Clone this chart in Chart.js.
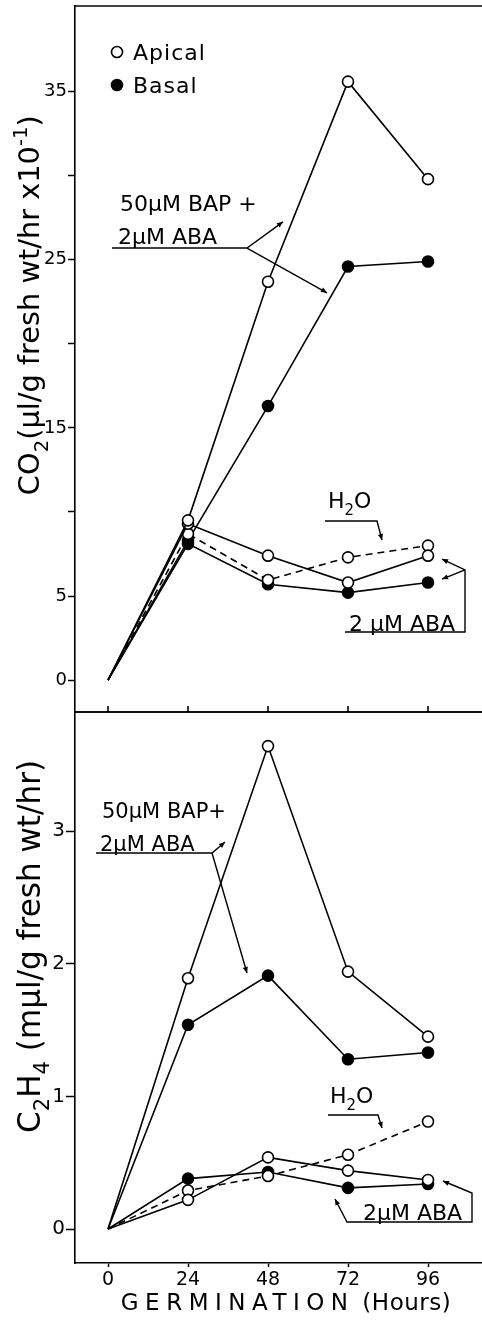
<!DOCTYPE html>
<html>
<head>
<meta charset="utf-8">
<script src="https://cdn.jsdelivr.net/npm/chart.js@4.4.0/dist/chart.umd.min.js"></script>
<style>
  html, body { margin: 0; padding: 0; background: #fff; }
  #wrap { position: relative; width: 482px; height: 1327px; overflow: hidden; }
  canvas { position: absolute; left: 0; }
  #co2 { top: 0; }
  #c2h4 { top: 700px; }
</style>
</head>
<body>
<div id="wrap">
  <canvas id="co2" width="482" height="716"></canvas>
  <canvas id="c2h4" width="482" height="627"></canvas>
</div>
<script>
const FONT = '"DejaVu Sans", sans-serif';

const hours = [0, 24, 48, 72, 96];
const hourTicks = [0, 24, 48, 72, 96];

// CO2 (µl/g fresh wt/hr x10^-1)
const co2BapApical = [0, 9.5, 23.7, 35.6, 29.8];
const co2BapBasal = [0, 8.3, 16.3, 24.6, 24.9];
const co2AbaApical = [0, 9.3, 7.4, 5.8, 7.4];
const co2AbaBasal = [0, 8.1, 5.7, 5.2, 5.8];
const co2WaterApical = [0, 8.7, 5.95, 7.3, 8.0];
const co2Ticks = [0, 5, 10, 15, 20, 25, 30, 35];
const co2TickLabels = ['0', '5', '', '15', '', '25', '', '35'];

// C2H4 (mµl/g fresh wt/hr)
const c2h4BapApical = [0, 1.89, 3.64, 1.94, 1.45];
const c2h4BapBasal = [0, 1.54, 1.91, 1.28, 1.33];
const c2h4AbaApical = [0, 0.22, 0.54, 0.44, 0.37];
const c2h4AbaBasal = [0, 0.38, 0.43, 0.31, 0.34];
const c2h4WaterApical = [0, 0.29, 0.40, 0.56, 0.81];
const c2h4Ticks = [0, 1, 2, 3];
const c2h4TickLabels = ['0', '1', '2', '3'];

Chart.defaults.color = '#000';
Chart.defaults.font.family = FONT;

function series(label, values, filled, dashed) {
  return {
    label,
    data: hours.map((h, i) => ({ x: h, y: values[i] })),
    borderColor: '#000',
    borderWidth: 1.6,
    borderDash: dashed ? [7, 5] : [],
    pointRadius: values.map((v, i) => (i === 0 ? 0 : 5.5)),
    pointBackgroundColor: filled ? '#000' : '#fff',
    pointBorderColor: '#000',
    pointBorderWidth: 1.6,
    order: filled ? 2 : 1,
    tension: 0
  };
}

function noPad(s) {
  s.paddingTop = 0; s.paddingBottom = 0; s.paddingLeft = 0; s.paddingRight = 0;
}

function yScale(min, max, ticks, labels, size, tickLen) {
  return {
    type: 'linear', min, max,
    afterBuildTicks: s => { s.ticks = ticks.map(v => ({ value: v })); },
    afterFit: s => { s.width = 75; noPad(s); },
    ticks: { callback: (v, i) => labels[i], font: { size }, padding: 1 },
    grid: { drawOnChartArea: false, tickLength: tickLen, color: '#000', tickWidth: 1.5 },
    border: { color: '#000', width: 1.6 }
  };
}

// ---- helpers for the hand-drawn parts of the figure ----
function line(ctx, pts) {
  ctx.beginPath();
  pts.forEach(([px, py], i) => (i ? ctx.lineTo(px, py) : ctx.moveTo(px, py)));
  ctx.stroke();
}
function arrowHead(ctx, [x0, y0], [x1, y1]) {
  const a = Math.atan2(y1 - y0, x1 - x0), L = 6, W = 2.6;
  ctx.beginPath();
  ctx.moveTo(x1, y1);
  ctx.lineTo(x1 - L * Math.cos(a) + W * Math.sin(a), y1 - L * Math.sin(a) - W * Math.cos(a));
  ctx.lineTo(x1 - L * Math.cos(a) - W * Math.sin(a), y1 - L * Math.sin(a) + W * Math.cos(a));
  ctx.closePath();
  ctx.fill();
}
function partFont(size, kind) { return (kind ? size * 0.68 : size) + 'px ' + FONT; }
function partsWidth(ctx, parts, size) {
  let w = 0;
  ctx.letterSpacing = '0px';
  parts.forEach(([t, kind, sp = 0]) => {
    ctx.font = partFont(size, kind);
    w += ctx.measureText(t).width + sp * t.length;
  });
  return w;
}
// x = left edge, y = middle of the capitals; part = [text, kind, letterSpacing]
function drawParts(ctx, parts, x, y, size) {
  let cx = x;
  const base = y + size * 0.36;
  parts.forEach(([t, kind, sp = 0]) => {
    const dy = kind === 'sub' ? size * 0.3 : kind === 'sup' ? -size * 0.42 : 0;
    ctx.font = partFont(size, kind);
    ctx.letterSpacing = '0px';
    const w = ctx.measureText(t).width;
    ctx.letterSpacing = sp + 'px';
    ctx.fillText(t, cx, base + dy);
    cx += w + sp * t.length;
  });
  ctx.letterSpacing = '0px';
}

const paperPlugin = {
  id: 'paper',
  afterDraw(chart, args, opts) {
    const { ctx, chartArea: a } = chart;
    const x = chart.scales.x, y = chart.scales.y;
    const P = ([hx, vy]) => [x.getPixelForValue(hx), y.getPixelForValue(vy)];
    ctx.save();
    ctx.strokeStyle = '#000';
    ctx.fillStyle = '#000';
    ctx.lineWidth = 1.6;
    ctx.textAlign = 'left';
    ctx.textBaseline = 'alphabetic';

    line(ctx, [[a.left, a.top], [a.right, a.top]]);
    if (opts.frameBottom) {
      line(ctx, [[a.left, a.bottom], [a.right, a.bottom]]);
      hourTicks.forEach(h => {
        const px = x.getPixelForValue(h);
        line(ctx, [[px, a.bottom], [px, a.bottom - 6]]);
      });
    }

    ctx.lineWidth = 1.4;
    (opts.notes || []).forEach(n => {
      if (n.text) {
        const [px, py] = P(n.at);
        drawParts(ctx, n.text, px, py, n.size || 22);
      } else {
        const pts = n.path.map(P);
        line(ctx, pts);
        if (n.arrow) arrowHead(ctx, pts[pts.length - 2], pts[pts.length - 1]);
        if (n.arrowStart) arrowHead(ctx, pts[1], pts[0]);
      }
    });

    if (opts.legend) {
      ctx.lineWidth = 1.6;
      opts.legend.forEach((item, i) => {
        const cx = a.left + 42, cy = a.top + 46 + i * 33;
        ctx.beginPath();
        ctx.arc(cx, cy, 5.5, 0, Math.PI * 2);
        ctx.fillStyle = item.filled ? '#000' : '#fff';
        ctx.fill();
        ctx.stroke();
        ctx.fillStyle = '#000';
        drawParts(ctx, [[item.label, '', 1]], cx + 16, cy, 22);
      });
    }

    if (opts.yTitle) {
      const t = opts.yTitle;
      let size = 28;
      size *= t.length / partsWidth(ctx, t.parts, size);
      const w = partsWidth(ctx, t.parts, size);
      ctx.translate(29, y.getPixelForValue(t.center));
      ctx.rotate(-Math.PI / 2);
      drawParts(ctx, t.parts, -w / 2, 0, size);
      ctx.setTransform(1, 0, 0, 1, 0, 0);
    }

    if (opts.xTitle) {
      const t = opts.xTitle;
      const w = partsWidth(ctx, t.parts, t.size);
      const cx = x.getPixelForValue(t.center);
      drawParts(ctx, t.parts, cx - w / 2, a.bottom + t.offset, t.size);
    }
    ctx.restore();
  }
};

// ---- CO2 panel ----
new Chart(document.getElementById('co2'), {
  type: 'line',
  data: {
    datasets: [
      series('50µM BAP + 2µM ABA apical', co2BapApical, false, false),
      series('50µM BAP + 2µM ABA basal', co2BapBasal, true, false),
      series('2µM ABA apical', co2AbaApical, false, false),
      series('2µM ABA basal', co2AbaBasal, true, false),
      series('H2O apical', co2WaterApical, false, true)
    ]
  },
  options: {
    responsive: false,
    animation: false,
    devicePixelRatio: 1,
    layout: { autoPadding: false, padding: { top: 6, left: 0, right: 0, bottom: 4 } },
    plugins: {
      legend: { display: false },
      tooltip: { enabled: false },
      paper: {
        frameBottom: true,
        legend: [{ label: 'Apical', filled: false }, { label: 'Basal', filled: true }],
        yTitle: {
          parts: [['CO', ''], ['2', 'sub'], ['(µl/g fresh wt/hr x10', ''], ['-1', 'sup'], [')', '']],
          center: 22.3, length: 380
        },
        notes: [
          { text: [['50µM BAP +', '']], at: [3.6, 28.4] },
          { text: [['2µM ABA', '']], at: [3.0, 26.4] },
          { path: [[1.2, 25.7], [41.7, 25.7], [52.5, 27.26]], arrow: true },
          { path: [[41.7, 25.7], [65.7, 23.04]], arrow: true },
          { text: [['H', ''], ['2', 'sub'], ['O', '']], at: [66.0, 10.7] },
          { path: [[65.1, 9.46], [80.7, 9.46], [82.2, 8.33]], arrow: true },
          { text: [['2 µM ABA', '']], at: [72.3, 3.39] },
          { path: [[71.1, 2.86], [107.1, 2.86], [107.1, 6.55], [100.2, 7.2]], arrow: true },
          { path: [[107.1, 6.55], [100.2, 6.01]], arrow: true }
        ]
      }
    },
    scales: {
      x: { type: 'linear', min: -9.9, max: 112.2, display: false },
      y: yScale(-1.9, 40.1, co2Ticks, co2TickLabels, 18, 7)
    }
  },
  plugins: [paperPlugin]
});

// ---- C2H4 panel ----
new Chart(document.getElementById('c2h4'), {
  type: 'line',
  data: {
    datasets: [
      series('50µM BAP + 2µM ABA apical', c2h4BapApical, false, false),
      series('50µM BAP + 2µM ABA basal', c2h4BapBasal, true, false),
      series('2µM ABA apical', c2h4AbaApical, false, false),
      series('2µM ABA basal', c2h4AbaBasal, true, false),
      series('H2O apical', c2h4WaterApical, false, true)
    ]
  },
  options: {
    responsive: false,
    animation: false,
    devicePixelRatio: 1,
    layout: { autoPadding: false, padding: { top: 12, left: 0, right: 0, bottom: 0 } },
    plugins: {
      legend: { display: false },
      tooltip: { enabled: false },
      paper: {
        yTitle: {
          parts: [['C', ''], ['2', 'sub'], ['H', ''], ['4', 'sub'], [' (mµl/g fresh wt/hr)', '']],
          center: 2.13, length: 373
        },
        xTitle: { parts: [['GERMINATION', '', 6.5], [' (Hours)', '', 0.5]], center: 53.4, offset: 38.5, size: 23 },
        notes: [
          { text: [['50µM BAP+', '']], at: [-1.8, 3.158], size: 21 },
          { text: [['2µM ABA', '']], at: [-2.4, 2.909], size: 21 },
          { path: [[-3.6, 2.834], [31.2, 2.834], [35.1, 2.917]], arrow: true },
          { path: [[31.2, 2.834], [41.7, 1.93]], arrow: true },
          { text: [['H', ''], ['2', 'sub'], ['O', '']], at: [66.6, 1.01] },
          { path: [[66.0, 0.859], [81.0, 0.859], [82.2, 0.761]], arrow: true },
          { text: [['2µM ABA', '']], at: [76.5, 0.128] },
          { path: [[68.1, 0.226], [71.7, 0.053], [109.2, 0.053], [109.2, 0.271], [100.5, 0.362]], arrow: true, arrowStart: true }
        ]
      }
    },
    scales: {
      x: {
        type: 'linear', min: -9.9, max: 112.2,
        afterBuildTicks: s => { s.ticks = hourTicks.map(v => ({ value: v })); },
        afterFit: s => { s.height = 64; noPad(s); },
        ticks: { font: { size: 19 }, padding: 2, maxRotation: 0, autoSkip: false },
        grid: { drawOnChartArea: false, tickLength: 4, color: '#000', tickWidth: 1.5 },
        border: { color: '#000', width: 1.6 }
      },
      y: yScale(-0.256, 3.897, c2h4Ticks, c2h4TickLabels, 20, 9)
    }
  },
  plugins: [paperPlugin]
});
</script>
</body>
</html>
